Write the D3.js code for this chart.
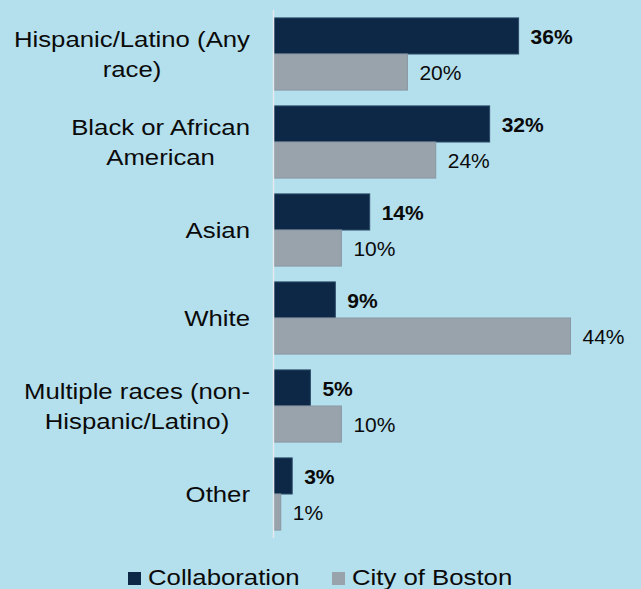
<!DOCTYPE html>
<html>
<head>
<meta charset="utf-8">
<script src="https://cdn.jsdelivr.net/npm/d3@7"></script>
<style>
  body { margin: 0; background: #b4dfec; }
  svg { display: block; font-family: "Liberation Sans", Arial, sans-serif; }
</style>
</head>
<body>
<svg width="641" height="589"></svg>
<script>
const categories = ["Hispanic/Latino (Any race)", "Black or African American", "Asian", "White", "Multiple races (non-Hispanic/Latino)", "Other"]
const labelLines = [["Hispanic/Latino (Any", "race)"], ["Black or African", "American"], ["Asian"], ["White"], ["Multiple races (non-", "Hispanic/Latino)"], ["Other"]]
// shares; labels show them rounded
const collaboration = [36.3, 32, 14.2, 9.1, 5.4, 2.7]
const cityOfBoston = [19.8, 24, 10, 44, 10, 1]
const seriesNames = ["Collaboration", "City of Boston"]
const seriesColors = ["#0c2846", "#98a3ac"]

const svg = d3.select("svg")
const stretch = 1.17

const yScale = d3.scaleBand().domain(categories).range([10, 538]).paddingInner(0.18).paddingOuter(0.09)
const subScale = d3.scaleBand().domain(seriesNames).range([0, yScale.bandwidth()])
const xScale = d3.scaleLinear().domain([0, 44]).range([274, 570.5])

const rows = categories.map((c, i) => ({ cat: c, values: [collaboration[i], cityOfBoston[i]] }))

const groups = svg.append("g")
    .selectAll("g.group")
    .data(rows)
    .enter()
    .append("g")
    .attr("class", "group")
    .attr("transform", d => `translate(0, ${yScale(d.cat)})`)

groups.selectAll("rect")
    .data(d => d.values.map((v, j) => ({ v, s: seriesNames[j], j })))
    .enter()
    .append("rect")
    .attr("x", xScale(0))
    .attr("y", d => subScale(d.s))
    .attr("width", d => xScale(d.v) - xScale(0))
    .attr("height", subScale.bandwidth())
    .attr("fill", d => seriesColors[d.j])
    .attr("stroke", d => d.j === 0 ? "#2c4a68" : "#8a98a4")
    .attr("stroke-width", 1)

groups.selectAll("text.value")
    .data(d => d.values.map((v, j) => ({ v, s: seriesNames[j], j })))
    .enter()
    .append("text")
    .attr("class", "value")
    .attr("x", d => xScale(d.v) + 12)
    .attr("y", d => subScale(d.s) + subScale.bandwidth() / 2)
    .attr("dy", "0.36em")
    .attr("font-size", 21)
    .attr("font-weight", d => d.j === 0 ? "bold" : "normal")
    .attr("fill", "#0a0a0a")
    .text(d => Math.round(d.v) + "%")

// axis line
svg.append("line")
    .attr("x1", 273.5).attr("x2", 273.5)
    .attr("y1", 10).attr("y2", 538)
    .attr("stroke", "#e4eaee")
    .attr("stroke-width", 1.5)

// category labels, centred lines, block right-aligned to 250
const lineH = 29.5
svg.append("g")
    .selectAll("g.cat")
    .data(rows)
    .enter()
    .append("g")
    .attr("class", "cat")
    .each(function(d, i) {
        const lines = labelLines[i]
        const cy = yScale(d.cat) + yScale.bandwidth() / 2
        const g = d3.select(this).append("g")
        const t = g.append("text")
            .attr("font-size", 22)
            .attr("fill", "#0a0a0a")
            .attr("text-anchor", "middle")
        lines.forEach((ln, k) => {
            t.append("tspan")
                .attr("x", 0)
                .attr("y", (k - (lines.length - 1) / 2) * lineH)
                .attr("dy", "0.36em")
                .text(ln)
        })
        const w = d3.max(t.selectAll("tspan").nodes(), n => n.getComputedTextLength()) * stretch
        g.attr("transform", `translate(${250 - w / 2}, ${cy}) scale(${stretch}, 1)`)
    })

// legend
const legendX = [128, 332]
const legend = svg.append("g")
    .selectAll("g.legend")
    .data(seriesNames)
    .enter()
    .append("g")
    .attr("class", "legend")
    .attr("transform", (d, i) => `translate(${legendX[i]}, 572)`)

legend.append("rect")
    .attr("width", 13).attr("height", 13)
    .attr("fill", (d, i) => seriesColors[i])

legend.append("text")
    .attr("transform", `translate(20, 13) scale(${stretch}, 1)`)
    .attr("font-size", 22)
    .attr("fill", "#0a0a0a")
    .text(d => d)
</script>
</body>
</html>
